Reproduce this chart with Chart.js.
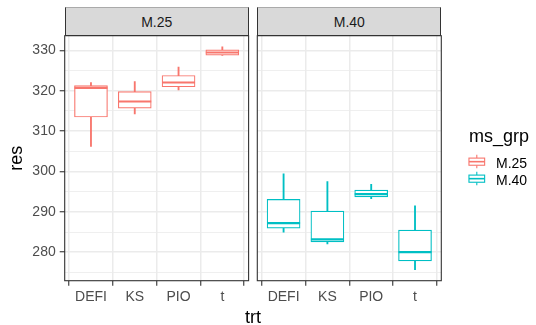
<!DOCTYPE html>
<html>
<head>
<meta charset="utf-8">
<script src="https://cdn.jsdelivr.net/npm/chart.js@4.4.1/dist/chart.umd.min.js"></script>
<style>
  html, body { margin:0; padding:0; background:#fff; }
  #wrap { position:relative; width:536px; height:325px; overflow:hidden; font-family:"Liberation Sans", Arial, sans-serif; }
  canvas { position:absolute; left:0; top:0; }
  .strip { position:absolute; top:7px; height:28.5px; background:#D9D9D9; border:1px solid #333; border-top-color:#aaa; box-sizing:border-box;
           color:#1A1A1A; font-size:14px; line-height:1; display:flex; align-items:center; justify-content:center; padding-top:2px; }
  .txt { position:absolute; white-space:nowrap; line-height:1; }
</style>
</head>
<body>
<div id="wrap">
  <canvas id="c1" width="536" height="325"></canvas>
  <canvas id="c2" width="536" height="325"></canvas>
  <div class="strip" style="left:64.7px;width:184px;">M.25</div>
  <div class="strip" style="left:257.3px;width:184px;">M.40</div>
  <div class="txt" style="left:245px;top:308px;font-size:18px;color:#000;">trt</div>
  <div class="txt" style="left:469px;top:127px;font-size:18px;color:#000;">ms_grp</div>
  <svg style="position:absolute;left:467.4px;top:153.3px" width="20" height="18" id="k1"></svg>
  <div class="txt" style="left:496px;top:155.8px;font-size:14px;color:#000;">M.25</div>
  <svg style="position:absolute;left:467.4px;top:170.3px" width="20" height="18" id="k2"></svg>
  <div class="txt" style="left:496px;top:173px;font-size:14px;color:#000;">M.40</div>
</div>
<script>
// ---- data ----
const categories = ['DEFI', 'KS', 'PIO', 't'];
const groups = ['M.25', 'M.40'];
const yTicks = [280, 290, 300, 310, 320, 330];
const yMinorTicks = [275, 285, 295, 305, 315, 325];

const m25Low  = [306.2, 314.3, 320.25, 328.8];
const m25Q1   = [313.5, 315.7, 321.0, 328.86];
const m25Med  = [320.75, 317.35, 322.06, 329.5];
const m25Q3   = [321.3, 319.8, 323.8, 330.17];
const m25High = [322.06, 322.3, 325.9, 330.9];

const m40Low  = [284.96, 282.06, 293.3, 275.7];
const m40Q1   = [285.95, 282.55, 293.7, 277.84];
const m40Med  = [287.2, 283.2, 294.4, 280.0];
const m40Q3   = [293.1, 290.2, 295.4, 285.5];
const m40High = [299.4, 297.5, 296.8, 291.5];

const colors = { 'M.25': '#F8766D', 'M.40': '#00BFC4' };

// ---- shared y limits (ggplot 5% expansion) ----
const allVals = [].concat(m25Low, m25High, m40Low, m40High);
const dMin = Math.min(...allVals), dMax = Math.max(...allVals);
const yMin = dMin - 0.05 * (dMax - dMin), yMax = dMax + 0.05 * (dMax - dMin);

Chart.defaults.font.family = '"Liberation Sans", Arial, sans-serif';
Chart.defaults.font.size = 14;
Chart.defaults.color = '#4D4D4D';

const panelBorder = {
  id: 'panelBorder',
  afterDatasetsDraw(chart) {
    const { ctx, chartArea: a } = chart;
    ctx.save();
    ctx.strokeStyle = '#333333';
    ctx.lineWidth = 1.1;
    ctx.strokeRect(a.left, a.top, a.right - a.left, a.bottom - a.top);
    ctx.restore();
  }
};

function boxDatasets(group, low, q1, med, q3, high) {
  const col = colors[group];
  return [
    { type: 'bar', label: group + ' whisker', order: 3, grouped: false, barThickness: 1.2,
      backgroundColor: col, borderWidth: 0,
      data: categories.map((c, i) => ({ x: i + 1, y: [low[i], high[i]] })) },
    { type: 'bar', label: group, order: 2, grouped: false, barThickness: 33,
      backgroundColor: '#ffffff', borderColor: col, borderWidth: 1.2, borderSkipped: false,
      data: categories.map((c, i) => ({ x: i + 1, y: [q1[i], q3[i]] })) },
    { type: 'line', label: group + ' median', order: 1, showLine: false,
      pointStyle: 'line', pointRadius: 16.5, pointHoverRadius: 16.5, pointBorderWidth: 2.2,
      borderColor: col, backgroundColor: col,
      data: categories.map((c, i) => ({ x: i + 1, y: med[i] })) }
  ];
}

function makeChart(id, datasets, opts) {
  return new Chart(document.getElementById(id), {
    type: 'bar',
    data: { datasets },
    plugins: [panelBorder],
    options: {
      responsive: false, animation: false, events: [],
      layout: { padding: { left: opts.padLeft, right: opts.padRight, top: 35.7, bottom: 0 } },
      plugins: { legend: { display: false }, tooltip: { enabled: false } },
      scales: {
        x: {
          type: 'linear', min: 0.4, max: 4.6, offset: false,
          border: { display: false },
          grid: { color: '#EBEBEB', lineWidth: 1.5, tickColor: '#333333', tickLength: 5, tickWidth: 1.1 },
          ticks: { autoSkip: false, maxRotation: 0, padding: 3, color: '#4D4D4D',
                   callback: (v) => categories[Math.round(v) - 1] },
          afterBuildTicks: (s) => { s.ticks = categories.map((c, i) => ({ value: i + 1 })); },
          afterFit: (s) => { s.height = 325 - 280.7; }
        },
        y: {
          type: 'linear', min: yMin, max: yMax,
          border: { display: false },
          grid: {
            color: '#EBEBEB',
            lineWidth: (c) => (c.tick && yTicks.includes(c.tick.value)) ? 1.5 : 0.8,
            tickColor: (c) => (c.tick && yTicks.includes(c.tick.value)) ? '#333333' : 'rgba(0,0,0,0)',
            tickLength: 5, tickWidth: 1.1, drawTicks: opts.showY
          },
          ticks: { display: opts.showY, padding: 4, color: '#4D4D4D',
                   callback: (v) => yTicks.includes(v) ? String(v) : '' },
          title: { display: opts.showY, text: 'res', color: '#000000', font: { size: 18 }, padding: { top: 6, bottom: 0 } },
          afterBuildTicks: (s) => {
            s.ticks = yMinorTicks.concat(yTicks).sort((a, b) => a - b).map(v => ({ value: v }));
          },
          afterFit: (s) => { s.width = opts.yWidth; }
        }
      }
    }
  });
}

makeChart('c1', boxDatasets('M.25', m25Low, m25Q1, m25Med, m25Q3, m25High),
  { padLeft: 0, padRight: 536 - 248.6, showY: true, yWidth: 64.7 });
makeChart('c2', boxDatasets('M.40', m40Low, m40Q1, m40Med, m40Q3, m40High),
  { padLeft: 257.3, padRight: 536 - 441.3, showY: false, yWidth: 0 });

// legend keys (ggplot boxplot key glyph)
function drawKey(svgId, col) {
  const w = 19.6, h = 17, ns = 'http://www.w3.org/2000/svg', svg = document.getElementById(svgId);
  const add = (tag, attrs) => { const e = document.createElementNS(ns, tag); for (const k in attrs) e.setAttribute(k, attrs[k]); svg.appendChild(e); };
  add('line', { x1: w / 2, x2: w / 2, y1: h * 0.1, y2: h * 0.3, stroke: col, 'stroke-width': 1.1 });
  add('line', { x1: w / 2, x2: w / 2, y1: h * 0.72, y2: h * 0.9, stroke: col, 'stroke-width': 1.1 });
  add('rect', { x: w * 0.1, y: h * 0.3, width: w * 0.8, height: h * 0.42, fill: '#fff', stroke: col, 'stroke-width': 1.1 });
  add('line', { x1: w * 0.1, x2: w * 0.9, y1: h * 0.51, y2: h * 0.51, stroke: col, 'stroke-width': 1.6 });
}
drawKey('k1', colors[groups[0]]);
drawKey('k2', colors[groups[1]]);
</script>
</body>
</html>
